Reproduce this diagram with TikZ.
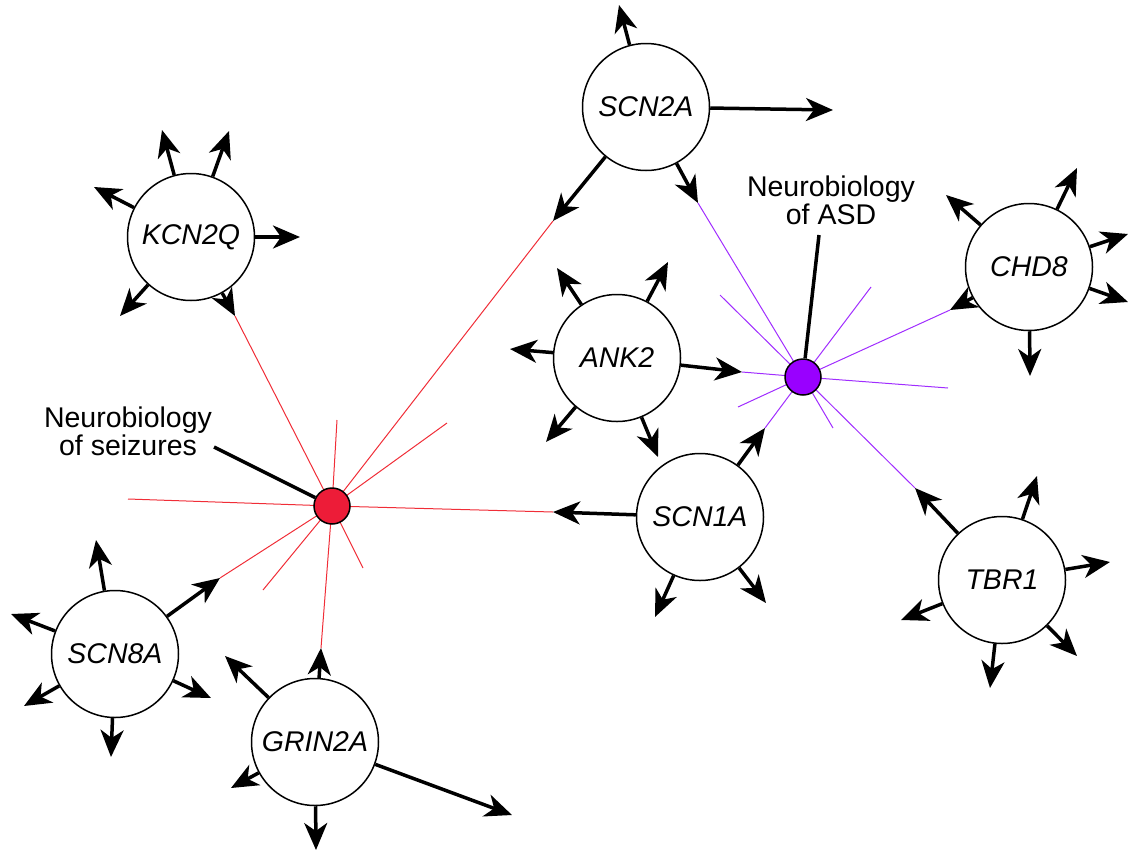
\documentclass[tikz,border=0pt]{standalone}
\usepackage{fontspec}
\setmainfont{Liberation Sans}
\usetikzlibrary{arrows.meta}
\pgfdeclarelayer{background}
\pgfsetlayers{background,main}
\definecolor{seizred}{RGB}{237,28,56}
\definecolor{seizline}{RGB}{240,45,55}
\definecolor{asdpurple}{RGB}{153,0,255}
\definecolor{asdline}{RGB}{160,45,255}
\begin{document}
\begin{tikzpicture}[x=1pt,y=-1pt,
  gene/.style={circle,draw,line width=1.5pt,fill=white,minimum size=127pt,inner sep=0pt,
    font=\fontsize{28.5}{30}\selectfont\itshape},
  hub/.style={circle,draw,line width=1.5pt,minimum size=36pt,inner sep=0pt},
  arr/.style={line width=3.5pt,-{Stealth[length=27pt,width=23pt,inset=8pt]}},
  lead/.style={line width=3.5pt},
  redspoke/.style={seizline,line width=1pt},
  purplespoke/.style={asdline,line width=1pt},
  lbl/.style={align=center,font=\fontsize{28.5}{28}\selectfont,inner sep=0pt}]
\useasboundingbox (0,0) rectangle (1128,852);

% gene circles
\node[gene] (scn2a)  at (646,107) {SCN2A};
\node[gene] (kcn2q)  at (191,237) {KCN2Q};
\node[gene] (ank2)   at (617,358) {ANK2};
\node[gene] (scn1a)  at (700,517) {SCN1A};
\node[gene] (chd8)   at (1029,267) {CHD8};
\node[gene] (tbr1)   at (1002,580) {TBR1};
\node[gene] (grin2a) at (315,742) {GRIN2A};
\node[gene] (scn8a)  at (115,654) {SCN8A};

% the two hubs
\node[hub,fill=seizred] (redhub) at (332,506) {};
\node[hub,fill=asdpurple] (purplehub) at (803,377) {};

% labels and their leader lines
\node[lbl] (seizlbl) at (128,431) {Neurobiology\\of seizures};
\node[lbl] (asdlbl) at (831,200) {Neurobiology\\of ASD};
\coordinate (seizlead) at (214,447);
\coordinate (asdlead) at (819,235);
\draw[lead] (seizlead) -- (redhub);
\draw[lead] (asdlead) -- (purplehub);

% arrow tips
\coordinate (s2a1) at (619,5);
\coordinate (s2a2) at (833,110);
\coordinate (s2a3) at (553,221);
\coordinate (s2a4) at (698,203);

\coordinate (kq1) at (162,130);
\coordinate (kq2) at (229,131);
\coordinate (kq3) at (94,187);
\coordinate (kq4) at (300,237);
\coordinate (kq5) at (120,316);
\coordinate (kq6) at (235,316);

\coordinate (an1) at (557,268);
\coordinate (an2) at (668,262);
\coordinate (an3) at (510,349);
\coordinate (an4) at (742,372);
\coordinate (an5) at (546,442);
\coordinate (an6) at (658,457);

\coordinate (s1a1) at (553,512);
\coordinate (s1a2) at (765,428);
\coordinate (s1a3) at (655,617);
\coordinate (s1a4) at (766,603);

\coordinate (cd1) at (946,195);
\coordinate (cd2) at (1077,168);
\coordinate (cd3) at (1128,234);
\coordinate (cd4) at (1128,302);
\coordinate (cd5) at (950,310);
\coordinate (cd6) at (1030,376);

\coordinate (tb1) at (915,488);
\coordinate (tb2) at (1037,476);
\coordinate (tb3) at (1110,562);
\coordinate (tb4) at (901,620);
\coordinate (tb5) at (1077,656);
\coordinate (tb6) at (990,688);

\coordinate (gr1) at (321,648);
\coordinate (gr2) at (225,656);
\coordinate (gr3) at (231,788);
\coordinate (gr4) at (512,815);
\coordinate (gr5) at (316,850);

\coordinate (s8a1) at (96,540);
\coordinate (s8a2) at (220,578);
\coordinate (s8a3) at (11,614);
\coordinate (s8a4) at (24,706);
\coordinate (s8a5) at (211,698);
\coordinate (s8a6) at (111,757);

% free spoke ends
\coordinate (rf1) at (128,499);
\coordinate (rf2) at (337,420);
\coordinate (rf3) at (447,423);
\coordinate (rf4) at (363,568);
\coordinate (rf5) at (263,590);
\coordinate (pf1) at (720,295);
\coordinate (pf2) at (871,287);
\coordinate (pf3) at (948,388);
\coordinate (pf4) at (738,407);
\coordinate (pf5) at (833,428);

% spokes behind everything
\begin{pgfonlayer}{background}
  \foreach \t in {kq6,s2a3,s1a1,s8a2,gr1,rf1,rf2,rf3,rf4,rf5}
    \draw[redspoke] (redhub.center) -- (\t);
  \foreach \t in {s2a4,an4,s1a2,cd5,tb1,pf1,pf2,pf3,pf4,pf5}
    \draw[purplespoke] (purplehub.center) -- (\t);
\end{pgfonlayer}

% outgoing arrows
\foreach \t in {s2a1,s2a2,s2a3,s2a4} \draw[arr] (scn2a) -- (\t);
\foreach \t in {kq1,kq2,kq3,kq4,kq5,kq6} \draw[arr] (kcn2q) -- (\t);
\foreach \t in {an1,an2,an3,an4,an5,an6} \draw[arr] (ank2) -- (\t);
\foreach \t in {s1a1,s1a2,s1a3,s1a4} \draw[arr] (scn1a) -- (\t);
\foreach \t in {cd1,cd2,cd3,cd4,cd5,cd6} \draw[arr] (chd8) -- (\t);
\foreach \t in {tb1,tb2,tb3,tb4,tb5,tb6} \draw[arr] (tbr1) -- (\t);
\foreach \t in {gr1,gr2,gr3,gr4,gr5} \draw[arr] (grin2a) -- (\t);
\foreach \t in {s8a1,s8a2,s8a3,s8a4,s8a5,s8a6} \draw[arr] (scn8a) -- (\t);
\end{tikzpicture}
\end{document}
